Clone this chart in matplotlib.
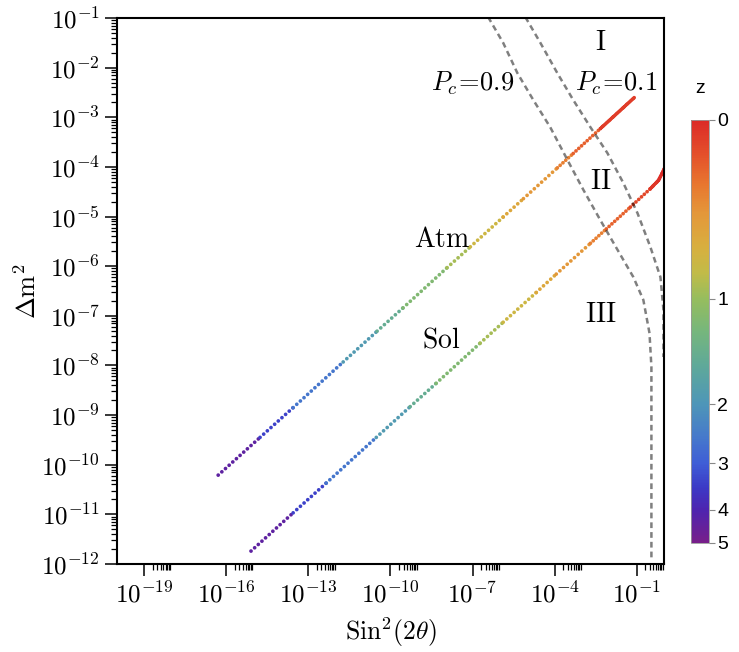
import matplotlib
matplotlib.use("Agg")
import matplotlib.pyplot as plt
import numpy as np
from matplotlib.colors import LinearSegmentedColormap, Normalize
from matplotlib.cm import ScalarMappable
from matplotlib.ticker import FixedLocator, FuncFormatter, NullFormatter

plt.rcParams['mathtext.fontset'] = 'cm'
plt.rcParams['font.family'] = 'DejaVu Serif'

# Farbskala: z-Werte und ihre Position auf der Farbleiste (0 oben, 1 unten)
cbar_z = [0, 1, 2, 3, 4, 5]
cbar_pos = [0.0, 0.423, 0.672, 0.812, 0.922, 1.0]
cmap_pos = [0.0, 0.08, 0.15, 0.22, 0.30, 0.36, 0.423, 0.50, 0.58, 0.672, 0.75, 0.812, 0.87, 0.922, 1.0]
cmap_col = ['#dc2a27', '#e4502b', '#e8762f', '#e4973a', '#d8af3f', '#c2bb48', '#96bd5e', '#76b67c',
            '#5fa999', '#4e96b8', '#4679cb', '#3f5ed6', '#3c3ac6', '#4d24b0', '#771f8a']

# Atm-Linie (log10 Werte) mit Rotverschiebung
atm_logx = [-16.30, -14.77, -13.56, -11.73, -10.49, -9.54, -7.93, -7.08, -5.88, -5.14, -3.90, -3.32, -2.33, -1.08]
atm_logy = [-10.21, -9.45, -8.85, -7.93, -7.31, -6.84, -6.03, -5.61, -5.01, -4.64, -4.02, -3.73, -3.23, -2.60]
atm_z = [5.0, 3.8, 3.0, 2.2, 1.71, 1.39, 1.03, 0.87, 0.71, 0.59, 0.47, 0.33, 0.19, 0.0]

# Sol-Linie
sol_logx = [-15.10, -13.56, -12.35, -10.52, -9.28, -8.33, -6.72, -5.88, -4.67, -3.94, -2.69, -2.11, -1.23,
            -0.50, -0.20, -0.06, 0.0]
sol_logy = [-11.74, -10.97, -10.37, -9.45, -8.83, -8.36, -7.55, -7.13, -6.53, -6.16, -5.54, -5.25, -4.81,
            -4.44, -4.27, -4.12, -4.04]
sol_z = [5.0, 3.8, 3.0, 2.2, 1.71, 1.39, 1.03, 0.87, 0.71, 0.59, 0.47, 0.33, 0.21, 0.10, 0.04, 0.01, 0.0]

# Konturen der Kreuzungswahrscheinlichkeit
pc09_logx = [-6.43, -5.88, -5.36, -4.78, -4.16, -3.53, -2.95, -2.33, -1.70, -1.12, -0.755, -0.53, -0.46, -0.46, -0.46]
pc09_logy = [-0.98, -1.50, -2.11, -2.65, -3.20, -3.86, -4.46, -5.07, -5.67, -6.22, -6.68, -7.35, -8.03, -9.70, -11.92]
pc01_logx = [-5.07, -4.52, -3.90, -3.32, -2.69, -2.07, -1.49, -0.97, -0.50, -0.13, -0.02, -0.02]
pc01_logy = [-0.98, -1.50, -2.11, -2.65, -3.20, -3.72, -4.32, -4.93, -5.61, -6.22, -6.88, -7.83]

cmap = LinearSegmentedColormap.from_list('zmap', list(zip(cmap_pos, cmap_col)))

fig = plt.figure(figsize=(7.39, 6.52), dpi=100)
ax = fig.add_axes([0.1583, 0.135, 0.7402, 0.8374])
ax.set_xscale('log')
ax.set_yscale('log')
ax.set_xlim(1e-20, 1)
ax.set_ylim(1e-12, 1e-1)


def draw_dots(lx, ly, zz):
    x = 10.0 ** np.array(lx)
    y = 10.0 ** np.array(ly)
    f = np.interp(zz, cbar_z, cbar_pos)
    for i in range(len(x) - 1):
        zm = 0.5 * (zz[i] + zz[i + 1])
        fm = 0.5 * (f[i] + f[i + 1])
        if zm < 0.15:
            gap = 0.5
        elif zm < 0.5:
            gap = 1.0
        else:
            gap = 1.3
        ax.plot(x[i:i + 2], y[i:i + 2], color=cmap(fm), lw=2.7, ls=(0, (0.01, gap)),
                dash_capstyle='round', zorder=2)


draw_dots(atm_logx, atm_logy, atm_z)
draw_dots(sol_logx, sol_logy, sol_z)

for lx, ly in [(pc09_logx, pc09_logy), (pc01_logx, pc01_logy)]:
    ax.plot(10.0 ** np.array(lx), 10.0 ** np.array(ly), color='k', alpha=0.5,
            lw=1.8, ls=(0, (2.3, 1.6)), zorder=3)

# Beschriftungen
ax.text(4.7e-3, 3.2e-2, r'$\mathrm{I}$', fontsize=20, ha='center', va='center')
ax.text(4.7e-3, 5.0e-5, r'$\mathrm{II}$', fontsize=20, ha='center', va='center')
ax.text(4.7e-3, 1.05e-7, r'$\mathrm{III}$', fontsize=20, ha='center', va='center')
ax.text(7.8e-9, 3.4e-6, r'$\mathrm{Atm}$', fontsize=20, ha='center', va='center')
ax.text(7.3e-9, 3.2e-8, r'$\mathrm{Sol}$', fontsize=20, ha='center', va='center')
ax.text(9.8e-8, 4.9e-3, r'$P_c\!=\!0.9$', fontsize=19, ha='center', va='center')
ax.text(1.8e-2, 4.9e-3, r'$P_c\!=\!0.1$', fontsize=19, ha='center', va='center')

ax.set_xlabel(r'$\mathrm{Sin}^2(2\theta)$', fontsize=18.5, labelpad=6)
ax.set_ylabel(r'$\Delta\mathrm{m}^2$', fontsize=19, labelpad=0)

# Achsenticks
xmaj = [10.0 ** d for d in range(-19, 0, 3)]
xmin = [k * 10.0 ** d for d in range(-19, 0, 3) for k in range(2, 10)]
ax.xaxis.set_major_locator(FixedLocator(xmaj))
ax.xaxis.set_minor_locator(FixedLocator(xmin))
ax.yaxis.set_major_locator(FixedLocator([10.0 ** d for d in range(-12, 0)]))
ax.yaxis.set_minor_locator(FixedLocator([k * 10.0 ** d for d in range(-12, -1) for k in range(2, 10)]))
fmt = FuncFormatter(lambda v, p: r'$10^{%d}$' % int(round(np.log10(v))))
ax.xaxis.set_major_formatter(fmt)
ax.yaxis.set_major_formatter(fmt)
ax.xaxis.set_minor_formatter(NullFormatter())
ax.yaxis.set_minor_formatter(NullFormatter())
ax.tick_params(which='major', direction='out', length=8.5, width=1.1, labelsize=18, pad=4)
ax.tick_params(which='minor', direction='out', length=4.5, width=0.9)
for s in ax.spines.values():
    s.set_linewidth(1.5)

# Farbleiste
cax = fig.add_axes([0.935, 0.1672, 0.0244, 0.649])
sm = ScalarMappable(norm=Normalize(0, 1), cmap=cmap)
cb = fig.colorbar(sm, cax=cax)
cb.set_ticks(cbar_pos)
cb.set_ticklabels([str(v) for v in cbar_z])
cax.invert_yaxis()
cb.outline.set_edgecolor('#999999')
cb.outline.set_linewidth(0.6)
cax.tick_params(length=4, width=0.8, color='#888888', labelsize=14, pad=2)
for t in cax.get_yticklabels():
    t.set_fontfamily('Liberation Sans')
cax.set_title('z', fontsize=14, fontfamily='Liberation Sans', pad=19)

fig.savefig('out.png', dpi=100)
